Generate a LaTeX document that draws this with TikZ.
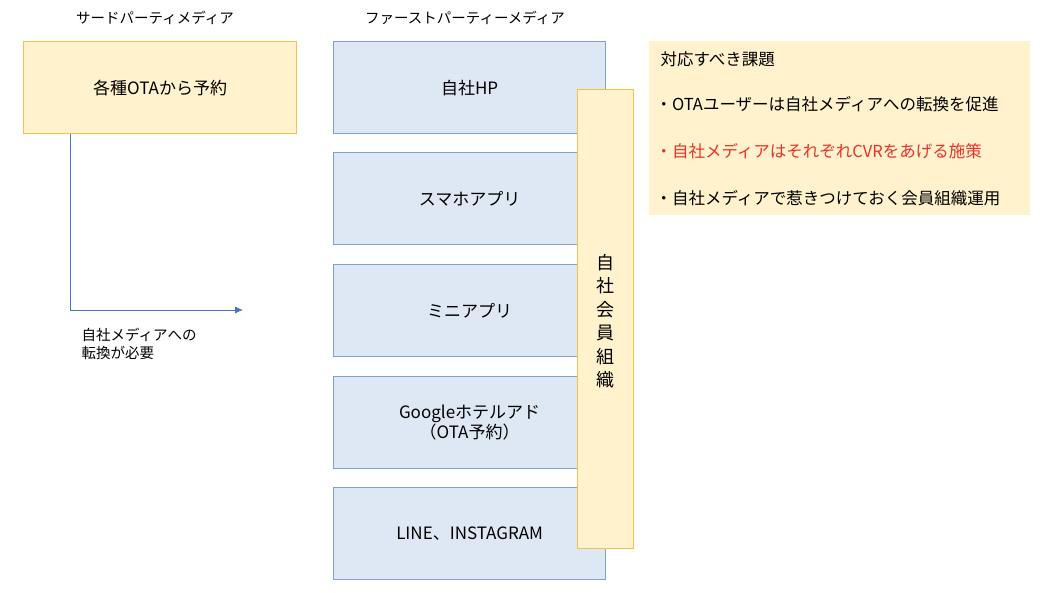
\documentclass[tikz,border=0pt]{standalone}
\usepackage{fontspec}
\setmainfont{Noto Sans CJK JP}
\usetikzlibrary{positioning,arrows.meta}
\definecolor{yfill}{HTML}{FFF2CC}
\definecolor{ydraw}{HTML}{F2C14E}
\definecolor{bfill}{HTML}{DEE8F4}
\definecolor{bdraw}{HTML}{7FA1D7}
\definecolor{lnblue}{HTML}{4472C4}
\definecolor{txtred}{HTML}{E8322B}
\begin{document}
\begin{tikzpicture}[x=1pt,y=-1pt]
% Define styles
\tikzset{
  yellowbox/.style={rectangle, draw=ydraw, fill=yfill, line width=1.2pt, font=\fontsize{17}{20}\selectfont, anchor=north west, inner sep=0pt},
  mediabox/.style={rectangle, draw=bdraw, fill=bfill, line width=1.2pt, minimum width=272pt, minimum height=92pt, font=\fontsize{17}{20}\selectfont, align=center, anchor=north west, inner sep=0pt},
  head/.style={font=\fontsize{14.5}{18}\selectfont},
  issue/.style={font=\fontsize{16.5}{20}\selectfont, anchor=west},
  arrow/.style={draw=lnblue, line width=0.8pt, -{Latex[length=8pt,width=7pt]}}
}
\useasboundingbox (0,0) rectangle (1050,593);

% Headings
\node (thirdhead) [head] at (155,18) {サードパーティメディア};
\node (firsthead) [head] at (465,18) {ファーストパーティーメディア};

% Third party box
\node (ota) [yellowbox, minimum width=273pt, minimum height=92pt] at (23,41) {各種OTAから予約};

% First party boxes
\node (hp) [mediabox] at (333,41) {自社HP};
\node (app) [mediabox] at (333,152) {スマホアプリ};
\node (mini) [mediabox] at (333,264) {ミニアプリ};
\node (google) [mediabox] at (333,376) {Googleホテルアド\\（OTA予約）};
\node (line) [mediabox] at (333,487) {LINE、INSTAGRAM};

% Member organisation
\node (member) [yellowbox, minimum width=56pt, minimum height=459pt] at (577,89) {};
\node [font=\fontsize{18}{23.5}\selectfont, align=center] at (605,321) {自\\社\\会\\員\\組\\織};

% Issues
\node (issues) [rectangle, fill=yfill, minimum width=381pt, minimum height=174pt, anchor=north west, inner sep=0pt] at (649,41) {};
\node (i0) [issue] at (657,59) {対応すべき課題};
\node (i1) [issue] at (652,104) {・OTAユーザーは自社メディアへの転換を促進};
\node (i2) [issue, text=txtred] at (652,151) {・自社メディアはそれぞれCVRをあげる施策};
\node (i3) [issue] at (652,198) {・自社メディアで惹きつけておく会員組織運用};

% Arrow
\coordinate (tip) at (243,310);
\draw [arrow] (ota.south west) ++(47,0) |- (tip);
\node (note) [head, anchor=north west, align=left] at (78,325) {自社メディアへの\\転換が必要};
\end{tikzpicture}
\end{document}
